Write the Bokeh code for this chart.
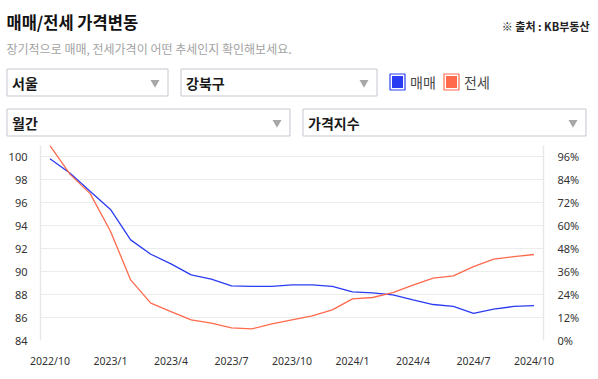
from bokeh.plotting import figure
from bokeh.layouts import column, row
from bokeh.models import Range1d, LinearAxis, FixedTicker, PrintfTickFormatter
from bokeh.core.properties import value
from bokeh.embed import file_html
from bokeh.resources import INLINE

# ---------------- data ----------------
months = ["2022/10", "2022/11", "2022/12", "2023/1", "2023/2", "2023/3", "2023/4",
          "2023/5", "2023/6", "2023/7", "2023/8", "2023/9", "2023/10", "2023/11",
          "2023/12", "2024/1", "2024/2", "2024/3", "2024/4", "2024/5", "2024/6",
          "2024/7", "2024/8", "2024/9", "2024/10"]
sale_index = [99.8, 98.55, 96.96, 95.4, 92.75, 91.5, 90.67, 89.71, 89.33, 88.75,
              88.7, 88.7, 88.84, 88.84, 88.7, 88.23, 88.14, 87.97, 87.54, 87.13,
              86.96, 86.35, 86.73, 86.96, 87.04]
jeonse_index = [100.95, 98.45, 96.75, 93.5, 89.27, 87.25, 86.52, 85.8, 85.51, 85.1,
                85.01, 85.45, 85.8, 86.14, 86.66, 87.62, 87.74, 88.17, 88.81, 89.42,
                89.62, 90.43, 91.07, 91.3, 91.48]
left_ticks = [84, 86, 88, 90, 92, 94, 96, 98, 100]
right_ticks = [0, 12, 24, 36, 48, 60, 72, 84, 96]
x_tick_idx = [0, 3, 6, 9, 12, 15, 18, 21, 24]

title_text = "매매/전세 가격변동"
subtitle_text = "장기적으로 매매, 전세가격이 어떤 추세인지 확인해보세요."
source_text = "※ 출처 : KB부동산"
dropdowns = ["서울", "강북구", "월간", "가격지수"]
legend_names = ["매매", "전세"]

BLUE = "#2a3cf2"
RED = "#ff6a4d"
KR = "Noto Sans CJK KR"
NUM = "Noto Sans"

W = 590
HH = 137          # header height
CH = 234          # chart height

# ---------------- header figure (pixel-like coordinates) ----------------
hdr = figure(width=W, height=HH, output_backend="svg", toolbar_location=None,
             x_range=Range1d(0, W), y_range=Range1d(HH, 0),
             x_axis_type=None, y_axis_type=None,
             min_border_left=0, min_border_right=0, min_border_top=0, min_border_bottom=0)
hdr.outline_line_color = None
hdr.xgrid.grid_line_color = None
hdr.ygrid.grid_line_color = None
hdr.background_fill_color = "white"
hdr.border_fill_color = "white"

def txt(xp, yp, text, size, color="#111111", style="normal", align="left", font=KR):
    hdr.text(x=[xp], y=[yp], text=[text], text_font=value(font), text_font_size=size,
             text_font_style=style, text_color=color, text_align=align,
             text_baseline="middle")

txt(6, 21.5, title_text, "16.5px", "#111111", "bold")
txt(6, 47.5, subtitle_text, "12px", "#a3a3a3")
txt(589, 25.5, source_text, "11px", "#222222", "bold", "right")

boxes = [(6.5, 167.5, 68.5, 95.5), (180.5, 376.5, 68.5, 95.5),
         (6.5, 289.5, 108.5, 135.5), (302.5, 585.5, 108.5, 135.5)]
for (l, r, t, b), name in zip(boxes, dropdowns):
    hdr.quad(left=[l], right=[r], top=[t], bottom=[b], fill_color="white",
             line_color="#c4c7d0", line_width=1)
    txt(l + 5, (t + b) / 2, name, "14px", "#1a1a1a", "bold")
    hdr.scatter(x=[r - 13], y=[(t + b) / 2], marker="inverted_triangle", size=9,
                fill_color="#a8a8a8", line_color=None)

for (lx, col, name) in [(389.5, BLUE, legend_names[0]), (443.5, RED, legend_names[1])]:
    hdr.quad(left=[lx], right=[lx + 15], top=[73.5], bottom=[89.5], fill_color="white",
             line_color=col, line_width=1.2)
    hdr.quad(left=[lx + 2], right=[lx + 13], top=[75.5], bottom=[87.5], fill_color=col,
             line_color=None)
    txt(lx + 20, 81.5, name, "14px", "#4a4a4a")

# ---------------- chart figure ----------------
p = figure(width=W, height=CH, output_backend="svg", toolbar_location=None,
           x_range=Range1d(-0.47, 24.47), y_range=Range1d(84, 100.96),
           min_border_left=40, min_border_right=47, min_border_top=8,
           min_border_bottom=31)
p.outline_line_color = None
p.background_fill_color = "white"
p.border_fill_color = "white"

x = list(range(len(months)))
p.line(x, sale_index, line_color=BLUE, line_width=1.3)
p.line(x, jeonse_index, line_color=RED, line_width=1.3)

ya = p.yaxis[0]
ya.ticker = FixedTicker(ticks=left_ticks)
ya.axis_line_color = "#e8e8e8"
ya.axis_line_width = 1.5
ya.major_tick_line_color = None
ya.minor_tick_line_color = None
ya.major_label_standoff = 7
ya.major_label_text_font = NUM
ya.major_label_text_font_size = "11px"
ya.major_label_text_color = "#333333"

pct_end = (100.96 - 84) * 6
p.extra_y_ranges = {"pct": Range1d(0, pct_end)}
ra = LinearAxis(y_range_name="pct", ticker=FixedTicker(ticks=right_ticks),
                formatter=PrintfTickFormatter(format="%d%%"))
ra.axis_line_color = "#e8e8e8"
ra.axis_line_width = 1.5
ra.major_tick_line_color = None
ra.minor_tick_line_color = None
ra.major_label_standoff = 8
ra.major_label_text_font = NUM
ra.major_label_text_font_size = "11px"
ra.major_label_text_color = "#333333"
p.add_layout(ra, "right")

xa = p.xaxis[0]
xa.ticker = FixedTicker(ticks=x_tick_idx)
xa.major_label_overrides = {i: months[i] for i in x_tick_idx}
xa.axis_line_color = None
xa.major_tick_line_color = None
xa.minor_tick_line_color = None
xa.major_label_standoff = 7
xa.major_label_text_font = NUM
xa.major_label_text_font_size = "10.5px"
xa.major_label_text_color = "#333333"

p.xgrid.grid_line_color = None
p.ygrid.grid_line_color = "#ececec"
p.ygrid.grid_line_width = 1

layout = column(row(hdr), row(p), spacing=0)
open("out.html", "w").write(file_html(layout, INLINE))
